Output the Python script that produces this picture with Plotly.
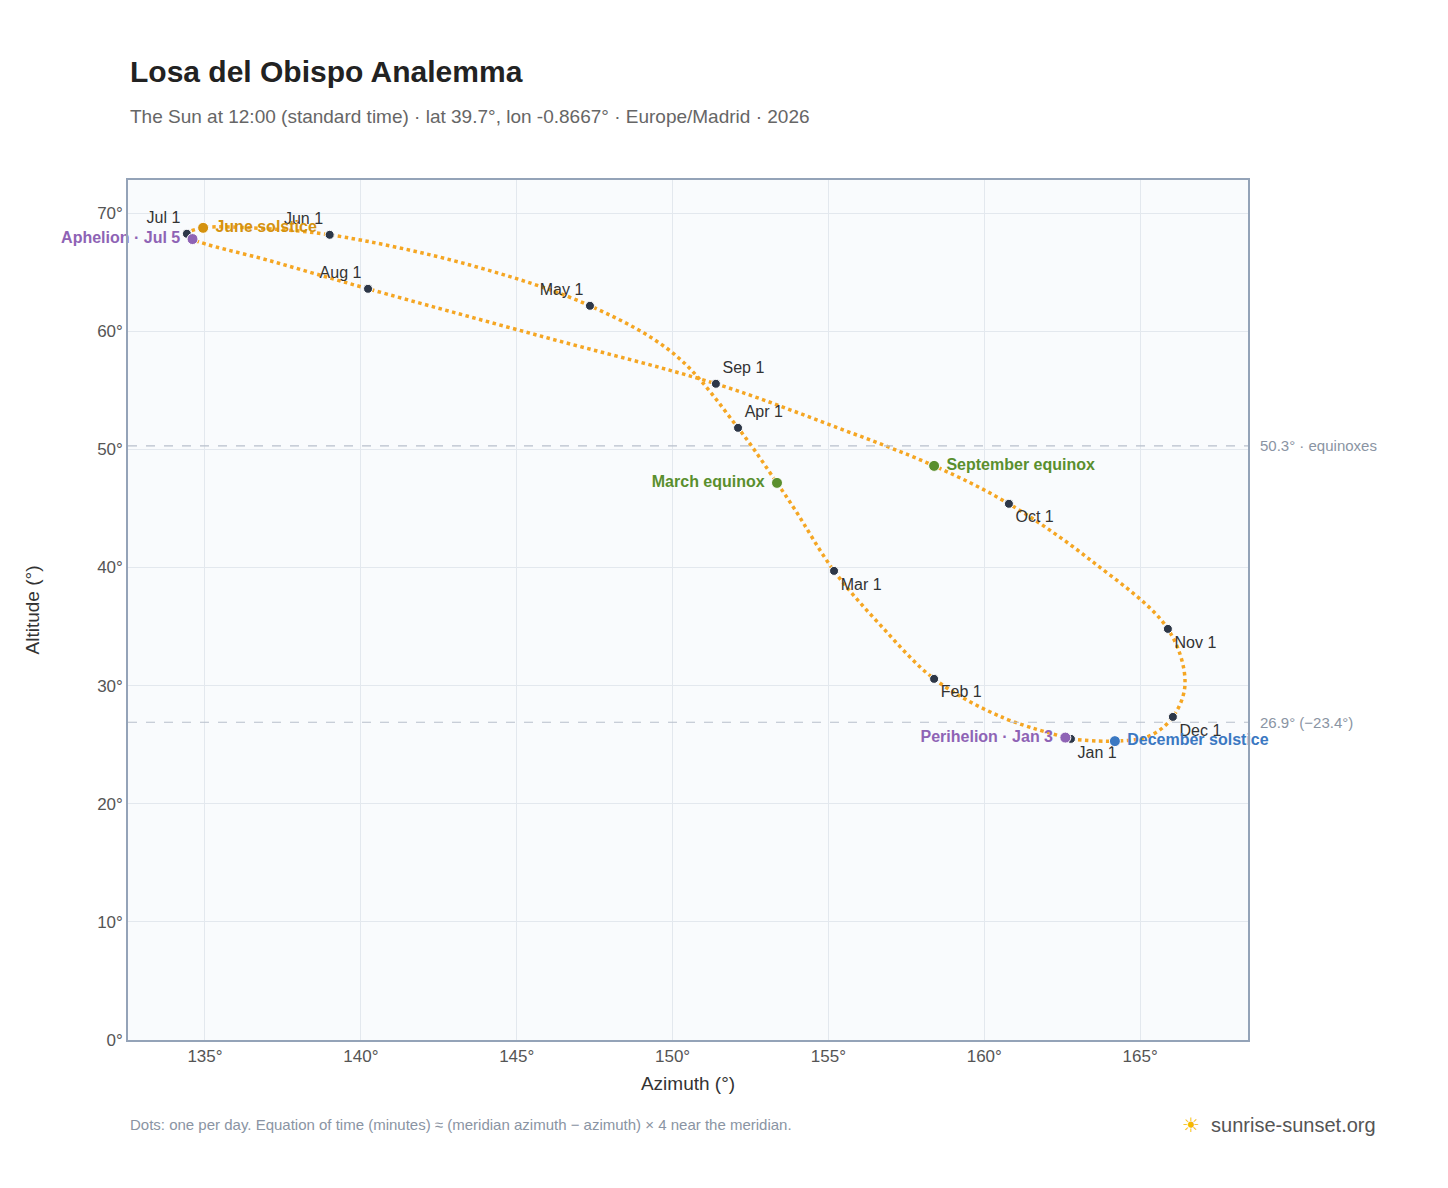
import plotly.graph_objects as go

# Sun positions (roughly twice per month)
days = ["Jan 1","Jan 15","Feb 1","Feb 15","Mar 1","Mar 15","Mar 20","Apr 1","Apr 15","May 1","May 15",
        "Jun 1","Jun 15","Jun 21","Jul 1","Jul 5","Jul 15","Aug 1","Aug 15","Sep 1","Sep 15","Sep 22",
        "Oct 1","Oct 15","Nov 1","Nov 15","Dec 1","Dec 15","Dec 21","Dec 31"]
az = [162.78,160.5,158.39,156.66,155.18,153.93,153.35,152.10,150.08,147.35,143.5,
      139.0,136.44,134.94,134.42,134.6,137.09,140.23,145.75,151.39,155.05,158.39,
      160.79,163.4,165.89,166.44,166.05,165.3,164.19,162.9]
alt = [25.49,27.4,30.57,35.14,39.71,44.88,47.16,51.82,58.0,62.15,65.6,
       68.16,68.75,68.75,68.25,67.8,65.96,63.59,59.6,55.55,52.07,48.6,
       45.39,40.64,34.80,30.2,27.35,25.74,25.3,25.45]

month_labels = ["Jan 1","Feb 1","Mar 1","Apr 1","May 1","Jun 1","Jul 1","Aug 1","Sep 1","Oct 1","Nov 1","Dec 1"]
label_pos = ["bottom right","bottom right","bottom right","top right","top left","top left","top left","top left",
             "top right","bottom right","bottom right","bottom right"]

events = [("March equinox","Mar 20","#5a8f2e","middle left"),
          ("September equinox","Sep 22","#5a8f2e","middle right"),
          ("June solstice","Jun 21","#d4920f","middle right"),
          ("December solstice","Dec 21","#3b78c2","middle right"),
          ("Aphelion · Jul 5","Jul 5","#8e63b5","middle left"),
          ("Perihelion · Jan 3","Jan 1","#8e63b5","middle left")]

xticks = [135,140,145,150,155,160,165]
yticks = list(range(0, 71, 10))

fig = go.Figure()
fig.add_trace(go.Scatter(x=az, y=alt, mode="lines", cliponaxis=False,
                         line=dict(color="#f5a623", width=3.5, dash="dot", shape="spline", smoothing=1.0),
                         hoverinfo="skip"))
idx = [days.index(m) for m in month_labels]
fig.add_trace(go.Scatter(x=[az[i] for i in idx], y=[alt[i] for i in idx], mode="markers+text",
                         cliponaxis=False,
                         marker=dict(color="#2d3748", size=9, line=dict(color="white", width=1)),
                         text=month_labels, textposition=label_pos,
                         textfont=dict(size=16, color="#333")))
for name, d, col, pos in events:
    i = days.index(d)
    x, y = az[i], alt[i]
    if name.startswith("Perihelion"):
        x, y = 162.6, 25.6
    fig.add_trace(go.Scatter(x=[x], y=[y], mode="markers+text", cliponaxis=False,
                             marker=dict(color=col, size=11, line=dict(color="white", width=1)),
                             text=["<b> " + name + " </b>"], textposition=pos,
                             textfont=dict(size=16, color=col)))

for yv, txt in [(50.3, "50.3° · equinoxes"), (26.9, "26.9° (−23.4°)")]:
    fig.add_shape(type="line", xref="paper", x0=0, x1=1, y0=yv, y1=yv,
                  line=dict(color="#b8c0cc", width=1.2, dash="dash"))
    fig.add_annotation(xref="paper", x=1.0, y=yv, text=txt, showarrow=False, xanchor="left", xshift=10,
                       font=dict(size=15, color="#8a94a3"))

fig.update_layout(
    width=1448, height=1188, showlegend=False,
    paper_bgcolor="white", plot_bgcolor="#f9fbfd",
    font=dict(family="Liberation Sans, Arial", color="#555"),
    margin=dict(l=120, r=208, t=172, b=156, autoexpand=False),
    xaxis=dict(range=[132.53, 168.46], tickvals=xticks, ticktext=[f"{v}°" for v in xticks],
               title=dict(text="Azimuth (°)", font=dict(size=19, color="#333"), standoff=12), gridcolor="#e3e8ee",
               showline=True, linecolor="#94a3b8", linewidth=1.5, mirror=True, zeroline=False,
               tickfont=dict(size=17), automargin=False),
    yaxis=dict(range=[0, 72.8], tickvals=yticks, ticktext=[f"{v}°" for v in yticks],
               title=dict(text="Altitude (°)", font=dict(size=19, color="#333"), standoff=52), gridcolor="#e3e8ee",
               showline=True, linecolor="#94a3b8", linewidth=1.5, mirror=True, zeroline=False,
               tickfont=dict(size=17), automargin=False),
)
fig.add_annotation(xref="paper", yref="paper", x=0, y=1.1256, xanchor="left", yanchor="middle", showarrow=False,
                   text="<b>Losa del Obispo Analemma</b>", font=dict(size=30, color="#222"))
fig.add_annotation(xref="paper", yref="paper", x=0, y=1.0744, xanchor="left", yanchor="middle", showarrow=False,
                   text="The Sun at 12:00 (standard time) · lat 39.7°, lon -0.8667° · Europe/Madrid · 2026",
                   font=dict(size=19, color="#666"))
fig.add_annotation(xref="paper", yref="paper", x=0, y=-0.0988, xanchor="left", yanchor="middle", showarrow=False,
                   text="Dots: one per day. Equation of time (minutes) ≈ (meridian azimuth − azimuth) × 4 near the meridian.",
                   font=dict(size=15, color="#8a94a3"))
fig.add_annotation(xref="paper", yref="paper", x=1.116, y=-0.0988, xanchor="right", yanchor="middle", showarrow=False,
                   text="<span style='color:#f5b800'>☀</span>  sunrise-sunset.org", font=dict(size=20, color="#555"))
fig.write_html("out.html")
